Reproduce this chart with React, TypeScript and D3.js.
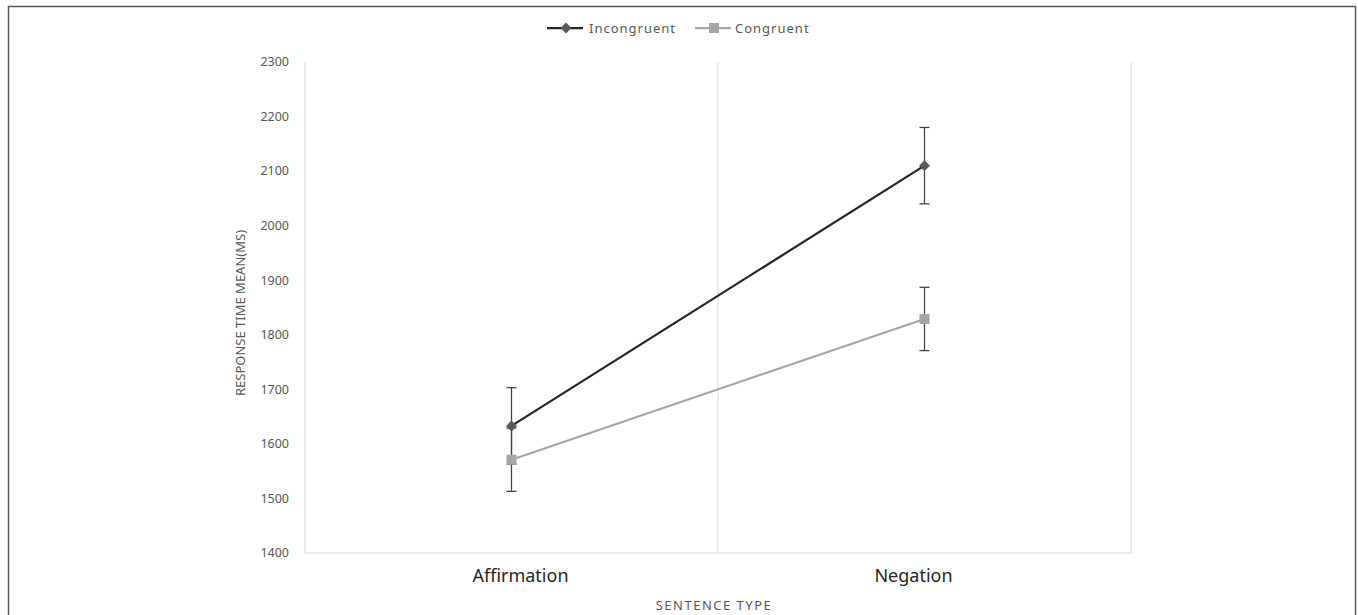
import React from "react";
import * as d3 from "d3";

const categories = ["Affirmation", "Negation"];
const seriesNames = ["Incongruent", "Congruent"];
const incongruent = [1633, 2110];
const congruent = [1571, 1829];
const incongruentErr = [70, 70];
const congruentErr = [58, 58];
const yTicks = [1400, 1500, 1600, 1700, 1800, 1900, 2000, 2100, 2200, 2300];

const W = 1358;
const H = 615;
const left = 305;
const right = 1131;
const top = 62;
const bottom = 553;
const font = "'Noto Sans', 'DejaVu Sans', sans-serif";
const labelShift = [9, -11];

export default function App() {
  const x = d3.scaleBand().domain(categories).range([left, right]);
  const y = d3.scaleLinear().domain([1400, 2300]).range([bottom, top]);
  const cx = (c: string) => (x(c) as number) + x.bandwidth() / 2;

  const series = [
    { name: seriesNames[0], values: incongruent, err: incongruentErr, line: "#262626", marker: "#595959", shape: "diamond" },
    { name: seriesNames[1], values: congruent, err: congruentErr, line: "#a6a6a6", marker: "#a6a6a6", shape: "square" },
  ];

  const lineGen = d3
    .line<number>()
    .x((_, i) => cx(categories[i]))
    .y((v) => y(v));

  const boundaries = [left, ...categories.map((c) => (x(c) as number) + x.bandwidth())];

  const marker = (shape: string, px: number, py: number, fill: string, key: string) =>
    shape === "diamond" ? (
      <path key={key} d={`M${px},${py - 5.5}L${px + 5.5},${py}L${px},${py + 5.5}L${px - 5.5},${py}Z`} fill={fill} />
    ) : (
      <rect key={key} x={px - 5} y={py - 5} width={10} height={10} fill={fill} />
    );

  const legendItems = [
    { x0: 547, textX: 589 },
    { x0: 695, textX: 735 },
  ];

  return (
    <svg width={W} height={H} style={{ position: "absolute", left: 0, top: 0, background: "#fff" }}>
      <rect x={8.5} y={6.5} width={1347} height={H + 10} fill="#fff" stroke="#595959" strokeWidth={1.5} />

      {/* vertical gridlines */}
      {boundaries.map((bx, i) => (
        <line key={i} x1={bx} x2={bx} y1={top} y2={bottom} stroke="#d9d9d9" strokeWidth={1} />
      ))}
      <line x1={left} x2={right} y1={bottom} y2={bottom} stroke="#d9d9d9" strokeWidth={1} />

      {/* y ticks */}
      {yTicks.map((t) => (
        <text key={t} x={289} y={y(t)} dy="0.35em" textAnchor="end" fontFamily={font} fontSize={12.5} fill="#595959">
          {t}
        </text>
      ))}

      {/* category labels */}
      {categories.map((c, i) => (
        <text key={c} x={cx(c) + labelShift[i]} y={576} dy="0.35em" textAnchor="middle" fontFamily={font} fontSize={18} fill="#262626">
          {c}
        </text>
      ))}

      <text x={714} y={605} dy="0.35em" textAnchor="middle" fontFamily={font} fontSize={13} letterSpacing={1.5} fill="#595959">
        SENTENCE TYPE
      </text>
      <text
        transform={`translate(240,313) rotate(-90)`}
        dy="0.35em"
        textAnchor="middle"
        fontFamily={font}
        fontSize={13}
        fill="#595959"
      >
        RESPONSE TIME MEAN(MS)
      </text>

      {/* series */}
      {series.map((s) => (
        <path key={s.name} d={lineGen(s.values) || ""} fill="none" stroke={s.line} strokeWidth={2.25} />
      ))}
      {series.map((s) =>
        s.values.map((v, i) => {
          const px = cx(categories[i]);
          return (
            <g key={s.name + i}>
              <line x1={px} x2={px} y1={y(v + s.err[i])} y2={y(v - s.err[i])} stroke="#404040" strokeWidth={1.25} />
              <line x1={px - 5} x2={px + 5} y1={y(v + s.err[i])} y2={y(v + s.err[i])} stroke="#404040" strokeWidth={1.25} />
              <line x1={px - 5} x2={px + 5} y1={y(v - s.err[i])} y2={y(v - s.err[i])} stroke="#404040" strokeWidth={1.25} />
            </g>
          );
        })
      )}
      {series.map((s) => s.values.map((v, i) => marker(s.shape, cx(categories[i]), y(v), s.marker, s.name + "m" + i)))}

      {/* legend */}
      {series.map((s, i) => {
        const L = legendItems[i];
        return (
          <g key={"lg" + s.name}>
            <line x1={L.x0} x2={L.x0 + 36} y1={28} y2={28} stroke={s.line} strokeWidth={2.25} />
            {marker(s.shape, L.x0 + 19, 28, s.marker, "lm" + i)}
            <text x={L.textX} y={28} dy="0.35em" fontFamily={font} fontSize={13} letterSpacing={1} fill="#595959">
              {s.name}
            </text>
          </g>
        );
      })}
    </svg>
  );
}
